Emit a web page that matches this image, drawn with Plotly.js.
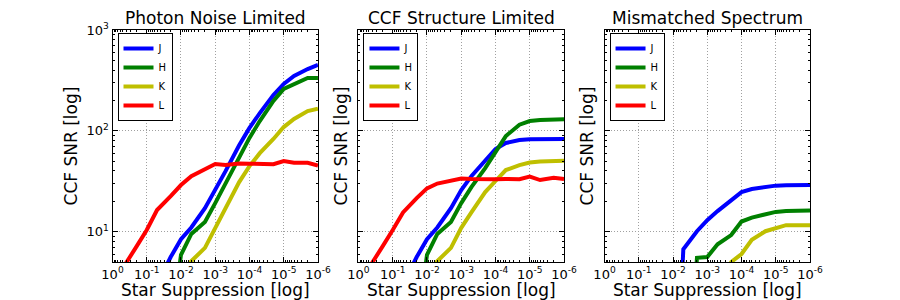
<!DOCTYPE html>
<html>
<head>
<meta charset="utf-8">
<script src="https://cdn.plot.ly/plotly-3.0.1.min.js"></script>
<style>html,body{margin:0;padding:0;background:#fff;}#chart{width:900px;height:300px;}</style>
</head>
<body>
<div id="chart"></div>
<script>
// Star suppression sample points
const suppression = [1, 0.5, 0.2, 0.1, 0.05, 0.02, 0.01, 5e-3, 2e-3, 1e-3, 5e-4, 2e-4, 1e-4, 5e-5, 2e-5, 1e-5, 5e-6, 2e-6, 1e-6];
const bands = ["J", "H", "K", "L"];
const panelTitles = ["Photon Noise Limited", "CCF Structure Limited", "Mismatched Spectrum"];

// Panel 1: Photon Noise Limited
const photonJ = [null, null, null, null, 3.0, 5.6, 8.4, 11.0, 17.1, 25.9, 39.8, 72, 107, 150, 226, 292, 350, 410, 450];
const photonH = [null, null, null, null, null, 1.0, 5.9, 9.5, 12.5, 19.2, 30, 55, 85, 125, 198, 260, 291, 334, 334];
const photonK = [null, null, null, null, null, null, 3.7, 5.1, 6.9, 10.9, 17.5, 31, 44.7, 60, 83, 109, 131, 157, 166];
const photonL = [3.0, 4.3, 7.1, 10.4, 16.4, 22.5, 29, 35.5, 41.7, 46.8, 45.8, 47.4, 47.2, 46.9, 46.7, 50.1, 48.2, 48.2, 45.3];

// Panel 2: CCF Structure Limited
const structJ = [null, null, null, null, 3.0, 5.6, 8.4, 11.0, 17.1, 25.9, 35.7, 51.3, 66, 75.7, 81, 82.5, 83, 83, 83];
const structH = [null, null, null, null, null, 1.0, 5.9, 9.5, 12.5, 19.2, 27.8, 42.7, 61, 88.7, 115, 125, 128, 130, 130];
const structK = [null, null, null, null, null, null, 3.7, 5.1, 6.9, 10.9, 15.6, 24.7, 31.8, 40.8, 45.7, 48.5, 49.6, 50.7, 50.5];
const structL = [3.0, 4.3, 7.1, 10.4, 15.5, 21.5, 26.9, 30, 31.8, 33.7, 33.3, 33, 33, 33.3, 33.1, 35.1, 32.5, 34.3, 33.3];

// Panel 3: Mismatched Spectrum
const mismJ = [null, null, null, null, null, null, 0.05, 6.7, 10.1, 13.0, 16.0, 20.6, 24.7, 26.5, 28, 28.6, 28.8, 29, 29];
const mismH = [null, null, null, null, null, null, null, 0.05, 5.5, 5.6, 7.5, 9.25, 12.6, 13.8, 15.0, 15.7, 16.0, 16.2, 16.2];
const mismK = [null, null, null, null, null, null, null, null, null, null, 0.05, 5.0, 6.0, 8.3, 10.1, 10.9, 11.6, 11.6, 11.6];
const mismL = [null, null, null, null, null, null, null, null, null, null, null, null, null, null, null, null, null, null, null];

const xTickVals = [1, 0.1, 0.01, 1e-3, 1e-4, 1e-5, 1e-6];
const xTickText = ["10<sup>0</sup>", "10<sup>-1</sup>", "10<sup>-2</sup>", "10<sup>-3</sup>", "10<sup>-4</sup>", "10<sup>-5</sup>", "10<sup>-6</sup>"];
const yTickVals = [10, 100, 1000];
const yTickText = ["10<sup>1</sup>", "10<sup>2</sup>", "10<sup>3</sup>"];

const colors = {J: "#0000ff", H: "#008000", K: "#bfbf00", L: "#ff0000"};
const panels = [
  [photonJ, photonH, photonK, photonL],
  [structJ, structH, structK, structL],
  [mismJ, mismH, mismK, mismL]
];

// minor tick positions
const xMinor = [];
for (let e = -6; e < 0; e++) for (let m = 2; m <= 9; m++) xMinor.push(m * Math.pow(10, e));
const yMinor = [];
for (let e = 0; e < 3; e++) for (let m = 2; m <= 9; m++) { const v = m * Math.pow(10, e); if (v >= 5) yMinor.push(v); }

const FONT = "DejaVu Sans, Bitstream Vera Sans, sans-serif";
const domainsX = [[0.1250, 0.3533], [0.3983, 0.6267], [0.6717, 0.9000]];
const yDomain = [38 / 300, 270 / 300];
const GRID = {showgrid: true, gridcolor: "#a0a0a0", griddash: "1px,2px", gridwidth: 1};

const traces = [];
const layout = {
  width: 900, height: 300,
  margin: {l: 0, r: 0, t: 0, b: 0},
  paper_bgcolor: "#ffffff", plot_bgcolor: "#ffffff",
  font: {family: FONT, color: "#000000", size: 12},
  annotations: []
};

panels.forEach((series, p) => {
  const sx = p === 0 ? "" : String(p + 1);
  const legendName = p === 0 ? "legend" : "legend" + (p + 1);
  series.forEach((ys, i) => {
    traces.push({
      type: "scatter", mode: "lines",
      x: suppression, y: ys,
      name: bands[i],
      xaxis: "x" + sx, yaxis: "y" + sx,
      legend: legendName,
      line: {color: colors[bands[i]], width: 4},
      connectgaps: false,
      hoverinfo: "skip"
    });
  });
  layout["xaxis" + sx] = Object.assign({
    type: "log", range: [0, -6], domain: domainsX[p], anchor: "y" + sx,
    tickmode: "array", tickvals: xTickVals, ticktext: xTickText,
    ticks: "inside", ticklen: 5, tickwidth: 1, tickcolor: "#000",
    showline: true, linecolor: "#000", linewidth: 1, mirror: "ticks",
    zeroline: false,
    tickfont: {family: FONT, size: 13, color: "#000"},
    minor: {tickmode: "array", tickvals: xMinor, ticks: "inside", ticklen: 2, tickcolor: "#000", showgrid: false},
    title: {text: "Star Suppression [log]", font: {family: FONT, size: 17, color: "#000"}, standoff: 0},
    automargin: false, fixedrange: true
  }, GRID);
  layout["yaxis" + sx] = Object.assign({
    type: "log", range: [Math.log10(5), 3], domain: yDomain, anchor: "x" + sx,
    tickmode: "array", tickvals: yTickVals, ticktext: yTickText,
    showticklabels: p === 0,
    ticks: "inside", ticklen: 5, tickwidth: 1, tickcolor: "#000",
    showline: true, linecolor: "#000", linewidth: 1, mirror: "ticks",
    zeroline: false,
    tickfont: {family: FONT, size: 13, color: "#000"},
    minor: {tickmode: "array", tickvals: yMinor, ticks: "inside", ticklen: 2, tickcolor: "#000", showgrid: false},
    title: {text: "CCF SNR [log]", font: {family: FONT, size: 17, color: "#000"}, standoff: p === 0 ? 4 : 5},
    automargin: false, fixedrange: true
  }, GRID);
  layout[legendName] = {
    x: domainsX[p][0] + 5 / 900, y: 1 - 33 / 300, xanchor: "left", yanchor: "top",
    bgcolor: "#ffffff", bordercolor: "#000000", borderwidth: 1,
    font: {family: FONT, size: 10, color: "#000"},
    tracegroupgap: 0, itemwidth: 30
  };
  layout.annotations.push({
    text: panelTitles[p], xref: "paper", yref: "paper",
    x: (domainsX[p][0] + domainsX[p][1]) / 2, y: yDomain[1],
    xanchor: "center", yanchor: "bottom", yshift: 0, showarrow: false,
    font: {family: FONT, size: 17, color: "#000"}
  });
});

Plotly.newPlot("chart", traces, layout, {staticPlot: true, displayModeBar: false});
</script>
</body>
</html>
